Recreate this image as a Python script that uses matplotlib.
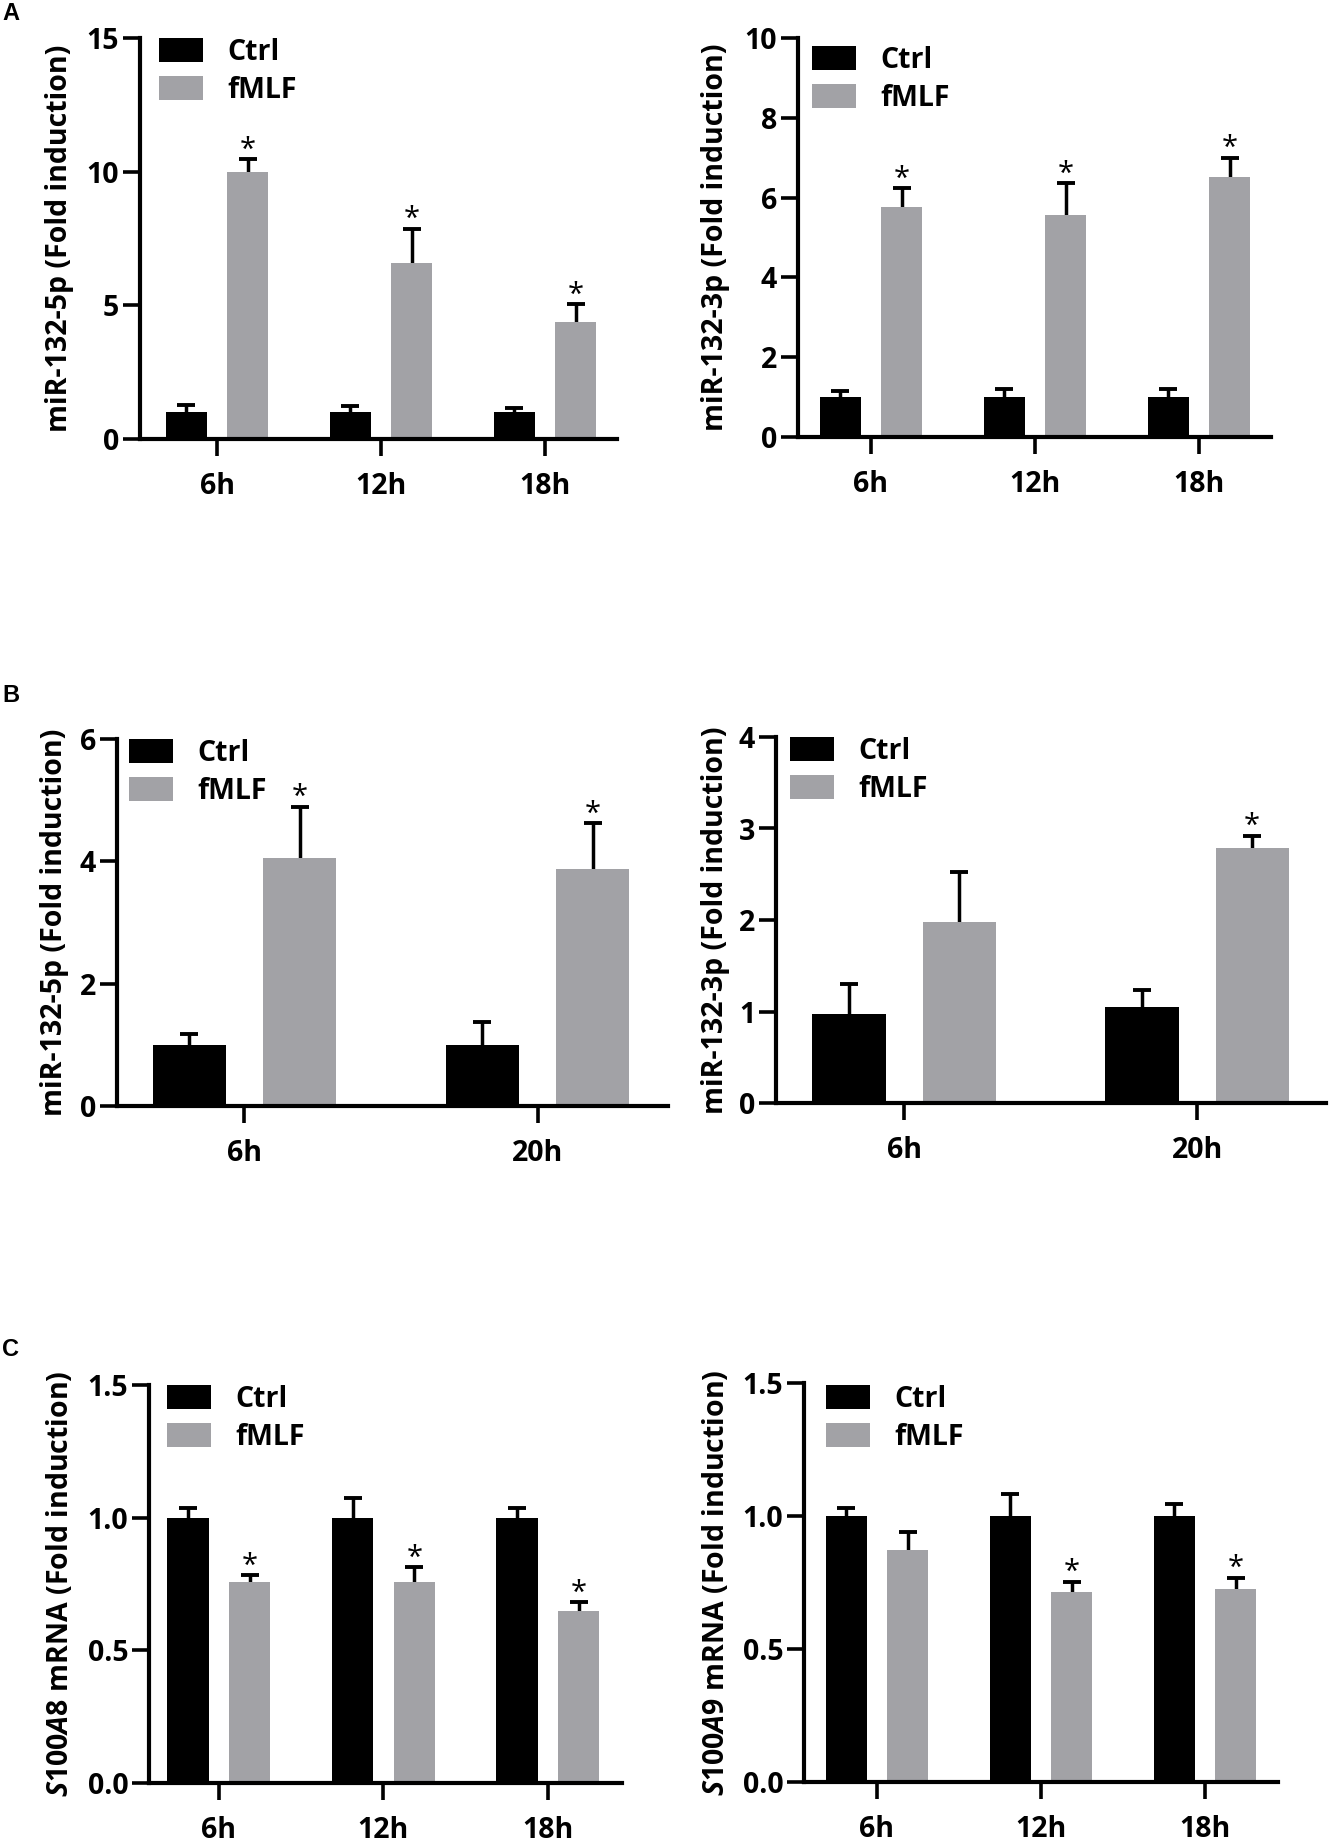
import numpy as np
import matplotlib
matplotlib.use("Agg")
import matplotlib.pyplot as plt

plt.rcParams['font.family'] = ['Open Sans', 'DejaVu Sans']
plt.rcParams['font.weight'] = 'bold'
plt.rcParams['mathtext.fontset'] = 'custom'
plt.rcParams['mathtext.it'] = 'Open Sans:italic:bold'
plt.rcParams['mathtext.rm'] = 'Open Sans:bold'

# panel A: miR-132 after fMLF, 6/12/18 h
times_a = ['6h', '12h', '18h']
a5p_ctrl = [1.0, 1.0, 1.0]
a5p_ctrl_err = [0.27, 0.24, 0.16]
a5p_fmlf = [10.0, 6.6, 4.36]
a5p_fmlf_err = [0.47, 1.27, 0.69]
a5p_sig = [True, True, True]

a3p_ctrl = [1.0, 1.0, 1.0]
a3p_ctrl_err = [0.15, 0.21, 0.21]
a3p_fmlf = [5.76, 5.56, 6.51]
a3p_fmlf_err = [0.47, 0.80, 0.49]
a3p_sig = [True, True, True]

# panel B: 6/20 h
times_b = ['6h', '20h']
b5p_ctrl = [1.0, 1.0]
b5p_ctrl_err = [0.17, 0.38]
b5p_fmlf = [4.05, 3.87]
b5p_fmlf_err = [0.84, 0.75]
b5p_sig = [True, True]

b3p_ctrl = [0.97, 1.05]
b3p_ctrl_err = [0.33, 0.19]
b3p_fmlf = [1.98, 2.79]
b3p_fmlf_err = [0.55, 0.13]
b3p_sig = [False, True]

# panel C: S100A8 / S100A9 mRNA
times_c = ['6h', '12h', '18h']
a8_ctrl = [1.0, 1.0, 1.0]
a8_ctrl_err = [0.038, 0.075, 0.038]
a8_fmlf = [0.758, 0.756, 0.65]
a8_fmlf_err = [0.026, 0.057, 0.031]
a8_sig = [True, True, True]

a9_ctrl = [1.0, 1.0, 1.0]
a9_ctrl_err = [0.03, 0.083, 0.045]
a9_fmlf = [0.873, 0.713, 0.724]
a9_fmlf_err = [0.066, 0.04, 0.044]
a9_sig = [False, True, True]

W, H = 1334, 1844
GRAY = '#a2a2a6'

fig = plt.figure(figsize=(W / 100, H / 100), dpi=100)


def make_axes(l, r, t, b):
    return fig.add_axes([l / W, 1 - b / H, (r - l) / W, (b - t) / H])


def up_errorbar(ax, x, vals, errs):
    # only the upper half of the error bar, no cap at the bar top
    cont = ax.errorbar(x, vals, yerr=[np.zeros(len(errs)), errs], fmt='none',
                       ecolor='black', elinewidth=2.5, capthick=2.8,
                       capsize=6.8, zorder=1)
    caps = cont.lines[1]
    for c in caps:
        if np.allclose(c.get_ydata(), vals):
            c.set_visible(False)


def bar_panel(ax, times, ctrl, ctrl_err, fmlf, fmlf_err, sig, ymax, yticks,
              ticklabels, ylabel, xlim, label_dx, leg_dx, leg_dy):
    x = np.arange(len(times))
    off, w = 0.188, 0.25
    b1 = ax.bar(x - off, ctrl, w, color='black', label='Ctrl', zorder=2)
    b2 = ax.bar(x + off, fmlf, w, color=GRAY, label='fMLF', zorder=2)
    up_errorbar(ax, x - off, ctrl, ctrl_err)
    up_errorbar(ax, x + off, fmlf, fmlf_err)
    for xi, v, e, s in zip(x, fmlf, fmlf_err, sig):
        if s:
            ax.annotate('*', (xi + off, v + e), xytext=(0, -4),
                        textcoords='offset points', ha='center', va='bottom',
                        fontsize=21, fontweight='normal')
    ax.set_ylim(0, ymax)
    ax.set_xlim(*xlim)
    ax.set_yticks(yticks)
    ax.set_yticklabels(ticklabels)
    ax.set_xticks(x)
    ax.set_xticklabels(times)
    for s in ['top', 'right']:
        ax.spines[s].set_visible(False)
    for s in ['left', 'bottom']:
        ax.spines[s].set_linewidth(3)
    ax.tick_params(axis='both', length=12, width=2.6, labelsize=20.5)
    ax.tick_params(axis='x', pad=12)
    ax.tick_params(axis='y', pad=3)
    ax.set_ylabel(ylabel, fontsize=20.5, fontweight='bold', va='center')
    bb = ax.get_position()
    ax.yaxis.set_label_coords(label_dx / (bb.width * W), 0.5)
    ax.legend([b1, b2], ['Ctrl', 'fMLF'], loc='upper left',
              bbox_to_anchor=(leg_dx / (bb.width * W), 1 - leg_dy / (bb.height * H)),
              frameon=False, fontsize=20.5, handlelength=1.55, handleheight=0.9,
              handletextpad=0.85, labelspacing=0.3, borderpad=0, borderaxespad=0)


ax = make_axes(140, 617, 38, 439)
bar_panel(ax, times_a, a5p_ctrl, a5p_ctrl_err, a5p_fmlf, a5p_fmlf_err, a5p_sig,
          15, [0, 5, 10, 15], ['0', '5', '10', '15'],
          'miR-132-5p (Fold induction)', (-0.47, 2.44), -80, 19, 0)

ax = make_axes(798, 1271, 38, 437)
bar_panel(ax, times_a, a3p_ctrl, a3p_ctrl_err, a3p_fmlf, a3p_fmlf_err, a3p_sig,
          10, [0, 2, 4, 6, 8, 10], ['0', '2', '4', '6', '8', '10'],
          'miR-132-3p (Fold induction)', (-0.445, 2.44), -82, 14, 8)

ax = make_axes(117, 668, 739, 1106)
bar_panel(ax, times_b, b5p_ctrl, b5p_ctrl_err, b5p_fmlf, b5p_fmlf_err, b5p_sig,
          6, [0, 2, 4, 6], ['0', '2', '4', '6'],
          'miR-132-5p (Fold induction)', (-0.435, 1.445), -62, 12, 0)

ax = make_axes(776, 1326, 737, 1103)
bar_panel(ax, times_b, b3p_ctrl, b3p_ctrl_err, b3p_fmlf, b3p_fmlf_err, b3p_sig,
          4, [0, 1, 2, 3, 4], ['0', '1', '2', '3', '4'],
          'miR-132-3p (Fold induction)', (-0.437, 1.44), -60, 14, 0)

ax = make_axes(149, 622, 1385, 1783)
bar_panel(ax, times_c, a8_ctrl, a8_ctrl_err, a8_fmlf, a8_fmlf_err, a8_sig,
          1.5, [0, 0.5, 1.0, 1.5], ['0.0', '0.5', '1.0', '1.5'],
          r'$\mathit{S100A8}$ mRNA (Fold induction)', (-0.425, 2.45), -89, 18, 0)

ax = make_axes(804, 1278, 1383, 1782)
bar_panel(ax, times_c, a9_ctrl, a9_ctrl_err, a9_fmlf, a9_fmlf_err, a9_sig,
          1.5, [0, 0.5, 1.0, 1.5], ['0.0', '0.5', '1.0', '1.5'],
          r'$\mathit{S100A9}$ mRNA (Fold induction)', (-0.445, 2.445), -88, 22, 2)

for letter, yy in [('A', 14), ('B', 695), ('C', 1350)]:
    fig.text(2 / W, 1 - yy / H, letter, fontsize=17, fontweight='bold',
             family='Liberation Sans', ha='left', va='center')

fig.savefig('out.png', dpi=100)
